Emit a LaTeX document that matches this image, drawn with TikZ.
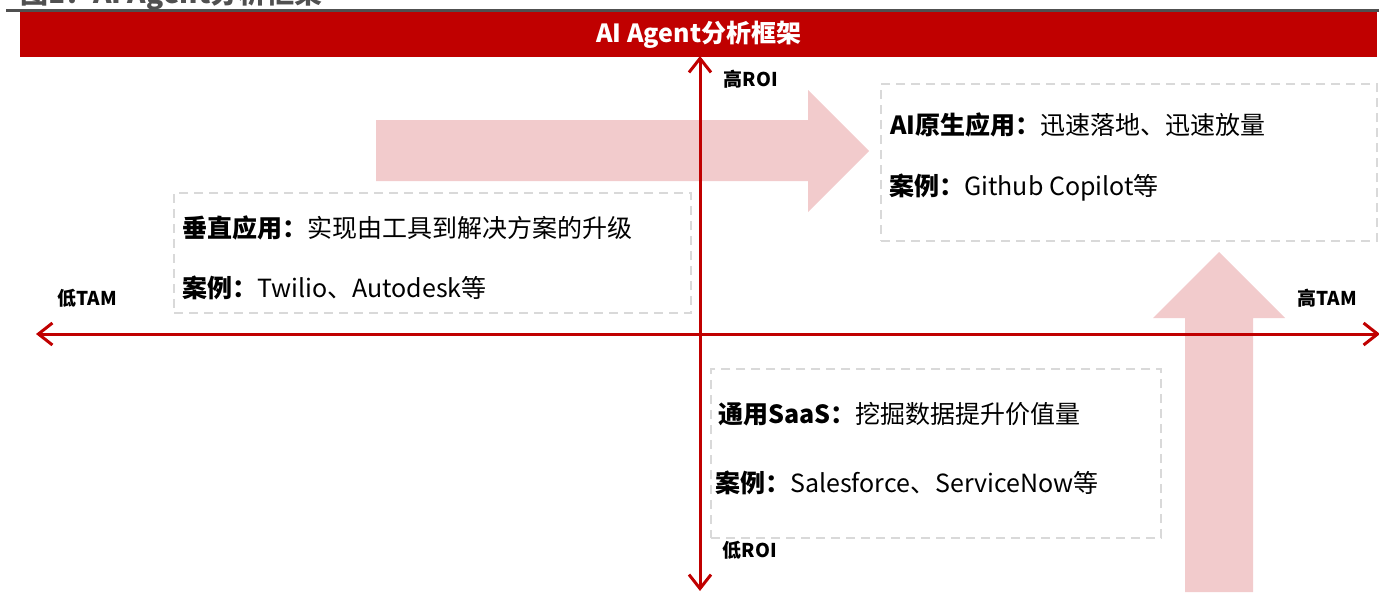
\documentclass[tikz,border=0pt]{standalone}
\usepackage{fontspec}
\setmainfont{Noto Sans CJK SC}
\usetikzlibrary{arrows.meta}
\definecolor{barred}{HTML}{C00000}
\definecolor{pinkfill}{HTML}{F2CBCC}
\definecolor{dashgray}{HTML}{D9D9D9}
\definecolor{rulegray}{HTML}{505050}
\newcommand{\boxfont}{\fontsize{25}{29}\selectfont}
\tikzset{
  dbox/.style={draw=dashgray, line width=2pt, dash pattern=on 9pt off 6pt, inner sep=0pt, anchor=north west},
  txt/.style={anchor=west, inner sep=0pt, font=\boxfont, text=black},
  axlabel/.style={font=\bfseries\fontsize{19}{21}\selectfont, inner sep=0pt, text=black},
  axisline/.style={barred, line width=3pt, {Straight Barb[length=14pt,width=22pt]}-{Straight Barb[length=14pt,width=22pt]}},
  pinkarrow/.style={fill=pinkfill, draw=none}
}
\begin{document}
\begin{tikzpicture}[x=1pt,y=-1pt]
\useasboundingbox (0,0) rectangle (1379,592);
\clip (0,0) rectangle (1379,592);
% cut-off figure title
\node[anchor=base west, inner sep=0pt, font=\bfseries\fontsize{28}{31}\selectfont, text=rulegray] (figtitle) at (20,3) {图1：AI Agent分析框架};
\draw[rulegray, line width=3pt] (6,10) -- (1379,10);
% red header bar
\node[fill=barred, minimum width=1357pt, minimum height=45pt, inner sep=0pt, anchor=north west,
      font=\bfseries\fontsize{25}{29}\selectfont, text=white] (bar) at (20,12) {AI Agent分析框架};
% pink arrows
\fill[pinkarrow] (376,120) -- (808,120) -- (808,90) -- (869,151) -- (808,212) -- (808,181) -- (376,181) -- cycle;
\fill[pinkarrow] (1185,592) -- (1185,318) -- (1153,318) -- (1219,252) -- (1285,318) -- (1253,318) -- (1253,592) -- cycle;
% dashed boxes
\node[dbox, minimum width=496pt, minimum height=157pt] (native) at (880,83) {};
\node[dbox, minimum width=517pt, minimum height=120pt] (vertical) at (173,192) {};
\node[dbox, minimum width=450pt, minimum height=169pt] (saas) at (710,368) {};
% box texts
\node[txt] (native1) at (890,125) {\textbf{AI原生应用：}迅速落地、迅速放量};
\node[txt] (native2) at (889,188) {\textbf{案例：}Github Copilot等};
\node[txt] (vert1) at (182,228) {\textbf{垂直应用：}实现由工具到解决方案的升级};
\node[txt] (vert2) at (182,288) {\textbf{案例：}Twilio、Autodesk等};
\node[txt] (saas1) at (718,414) {\textbf{通用SaaS：}挖掘数据提升价值量};
\node[txt] (saas2) at (715,483) {\textbf{案例：}Salesforce、ServiceNow等};
% axes
\coordinate (axL) at (36,334);
\coordinate (axR) at (1380,334);
\coordinate (axT) at (700,56);
\coordinate (axB) at (700,591);
\draw[axisline] (axL) -- (axR);
\draw[axisline] (axB) -- (axT);
% axis labels
\node[axlabel] (hiroi) at (751,79) {高ROI};
\node[axlabel] (loroi) at (750,550) {低ROI};
\node[axlabel] (lotam) at (87,298) {低TAM};
\node[axlabel] (hitam) at (1327,298) {高TAM};
\end{tikzpicture}
\end{document}
